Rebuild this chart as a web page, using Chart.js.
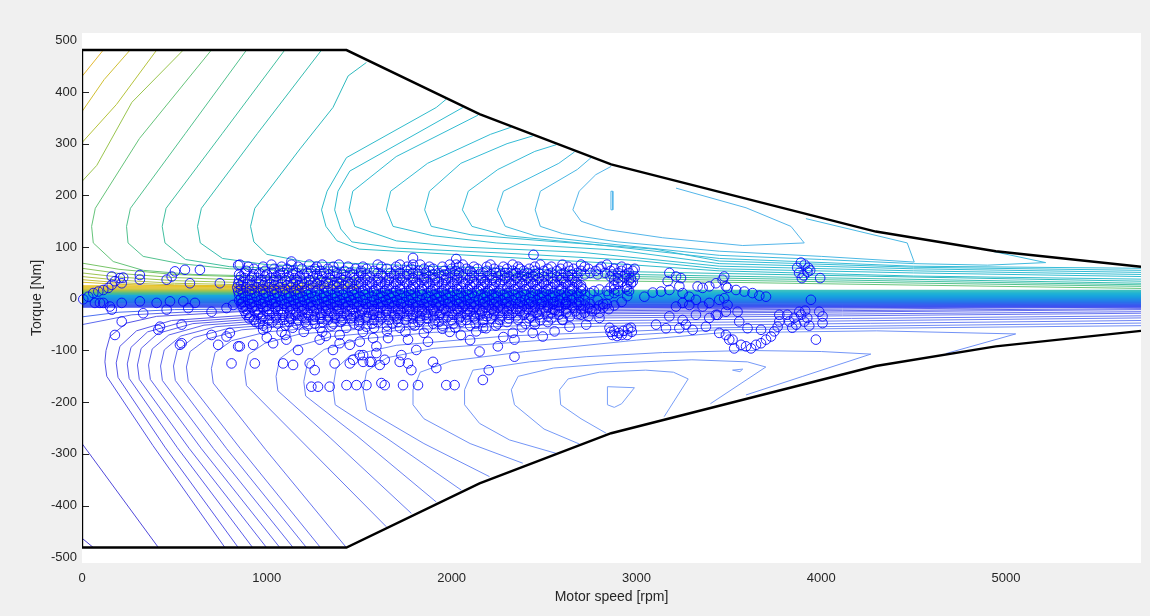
<!DOCTYPE html>
<html>
<head>
<meta charset="utf-8">
<script src="https://cdn.jsdelivr.net/npm/chart.js@4.4.1/dist/chart.umd.min.js"></script>
<style>
  html, body { margin: 0; padding: 0; background: #f0f0f0; }
  canvas { display: block; }
</style>
</head>
<body>
<canvas id="mapChart" width="1150" height="616"></canvas>
<script>
// === MOTOR LOSS MAP: contours + operating points ===

const speedTicks = [0, 1000, 2000, 3000, 4000, 5000];
const torqueTicks = [-500, -400, -300, -200, -100, 0, 100, 200, 300, 400, 500];
const innerTicks = [-400, -300, -200, -100, 0, 100, 200, 300, 400];

// torque envelope (speed rpm, torque Nm), mirrored for braking
const envelopeSpeed = [0, 1431, 2151, 2863, 4295, 4944, 5730];
const envelopeTorque = [481, 481, 357, 260, 130, 92, 62];

// dense band of contour levels round zero torque
const bandLevels = [16, 14, 12, 10, 8, 6, 4, 2, 0, -2, -4, -6, -8, -10, -12, -14, -16];
const leftBandLevels = [25, 23, 21, 19, 17, 15, 13, 11, 9];

// upper contours, [speed, torque] points
const upperContours = [
  [[0, 430], [115, 481]],
  [[0, 362], [120, 424], [260, 481]],
  [[0, 302], [187, 376], [404, 481]],
  [[0, 227], [80, 258], [270, 380], [548, 481]],
  [[0, 69], [200, 57], [500, 47], [900, 42], [1500, 38]],
  [[0, 59], [200, 49], [500, 41], [900, 36], [1500, 33]],
  [[0, 50], [200, 42], [500, 35], [900, 31], [1500, 28]],
  [[0, 43], [200, 36], [500, 30], [900, 27], [1500, 25]],
  [[0, 37], [200, 31], [500, 27], [900, 24], [1500, 22]],
  [[0, 32], [200, 28], [500, 25], [900, 22], [1500, 20]],
  [[700, 481], [311, 310], [72, 175], [52, 140], [61, 108], [169, 72], [331, 55], [600, 47], [1200, 42], [2500, 36], [3448, 32], [5730, 20]],
  [[890, 481], [560, 320], [262, 175], [241, 140], [249, 108], [331, 82], [530, 68], [800, 58], [1500, 50], [2500, 42], [3448, 36], [5730, 24]],
  [[1097, 481], [760, 320], [455, 175], [434, 140], [449, 108], [560, 76], [800, 62], [1500, 54], [2500, 46], [3448, 40], [5730, 27]],
  [[1296, 481], [950, 320], [646, 175], [625, 140], [640, 108], [760, 78], [1000, 66], [1600, 58], [2500, 50], [3448, 44], [5730, 30]],
  [[1539, 457], [1440, 431], [1358, 370], [1180, 290], [935, 175], [912, 140], [930, 110], [1000, 86], [1200, 72], [1800, 64], [2600, 55], [3448, 49], [5730, 34]],
  [[1971, 386], [1917, 370], [1431, 273], [1326, 208], [1296, 172], [1320, 140], [1380, 112], [1500, 96], [2000, 86], [2800, 70], [3448, 54], [4500, 44], [5730, 38]],
  [[2061, 370], [1449, 247], [1385, 208], [1367, 172], [1400, 135], [1460, 110], [1700, 98], [2300, 88], [3000, 74], [3448, 58], [4500, 50], [5730, 43]],
  [[2142, 355], [1700, 275], [1465, 208], [1445, 172], [1476, 140], [1701, 112], [2060, 100], [2700, 90], [3448, 63], [4500, 54], [5730, 47]],
  [[2323, 332], [2210, 318], [1870, 262], [1670, 208], [1647, 172], [1683, 140], [1898, 122], [2241, 108], [2900, 94], [3448, 68], [4500, 58], [5730, 51]],
  [[2439, 315], [2300, 300], [2050, 262], [1880, 208], [1854, 172], [1890, 140], [2100, 124], [2500, 112], [3100, 96], [3448, 73], [4500, 61], [5730, 55]],
  [[2566, 298], [2450, 285], [2250, 250], [2090, 208], [2058, 172], [2110, 140], [2300, 122], [2800, 104], [3448, 78], [4500, 63], [5730, 59]],
  [[2665, 284], [2580, 262], [2280, 208], [2247, 172], [2290, 140], [2450, 122], [2800, 108], [3448, 84], [4000, 76], [4500, 68], [4900, 65], [5214, 70], [4924, 92]],
  [[2755, 273], [2680, 250], [2480, 208], [2452, 172], [2480, 140], [2600, 126], [2900, 110], [3448, 92], [4000, 82], [4503, 71], [4465, 108], [3917, 155]],
  [[2863, 256], [2780, 240], [2690, 208], [2656, 172], [2700, 150], [2836, 134], [3142, 118], [3575, 103], [3908, 108], [3836, 140], [3593, 176], [3214, 214]],
  [[2862, 208], [2872, 208], [2872, 172], [2862, 172], [2862, 208]]
];
const upperColors = [
  '#e4b830', '#d0bf32', '#b6c33c', '#9ac54e',
  '#78c468', '#8ac45c', '#9cc452', '#b0c246', '#c4c03a', '#d8be2e',
  '#66c47a', '#52c28e', '#42c0a0', '#36bdb0', '#2ebabe',
  '#30bccc', '#30bcd0', '#32bcd2', '#34bcd4', '#36bcd6', '#38bcd8',
  '#40bade', '#4ab8e4', '#54b6ea', '#54b6ea'
];

// lower contours, [speed, torque] points
const lowerContours = [
  [[0, -463], [61, -481]],
  [[0, -280], [413, -481]],
  [[0, -50], [130, -41], [270, -31], [600, -25], [1400, -21]],
  [[0, -35], [200, -26], [500, -21], [1400, -18]],
  [[5730, -8], [2500, -12], [900, -24], [404, -34], [241, -47], [151, -73], [130, -100], [124, -122], [134, -150], [384, -284], [773, -481]],
  [[5730, -10], [2500, -15], [1000, -29], [485, -42], [295, -62], [205, -92], [185, -124], [195, -152], [449, -287], [845, -481]],
  [[5730, -12], [2500, -18], [1050, -32], [545, -45], [355, -64], [265, -94], [245, -126], [255, -154], [516, -288], [923, -481]],
  [[5730, -14], [2500, -21], [1100, -35], [600, -48], [410, -67], [320, -96], [300, -128], [310, -156], [579, -289], [998, -481]],
  [[5730, -16], [2500, -24], [1150, -38], [660, -51], [470, -70], [380, -97], [360, -128], [370, -156], [644, -289], [1070, -481]],
  [[5730, -19], [2500, -27], [1200, -41], [725, -54], [535, -72], [445, -99], [425, -130], [435, -158], [712, -290], [1142, -481]],
  [[5730, -21], [2500, -30], [1260, -44], [795, -57], [605, -75], [515, -100], [495, -130], [505, -158], [783, -290], [1214, -481]],
  [[5730, -25], [2500, -34], [1320, -47], [865, -60], [675, -78], [585, -102], [565, -132], [575, -160], [855, -289], [1290, -481]],
  [[5730, -28], [2500, -38], [1450, -51], [1000, -64], [810, -81], [720, -104], [700, -135], [710, -163], [992, -291], [1430, -481]],
  [[5730, -33], [2600, -43], [1600, -56], [1180, -68], [990, -86], [900, -108], [880, -140], [890, -168], [1187, -275], [1647, -441]],
  [[5730, -37], [2700, -48], [1750, -60], [1350, -73], [1160, -92], [1070, -116], [1050, -150], [1060, -178], [1343, -269], [1782, -415]],
  [[5730, -42], [2800, -53], [1900, -65], [1500, -78], [1310, -98], [1220, -124], [1200, -160], [1210, -188], [1487, -265], [1917, -393]],
  [[5730, -47], [3448, -56], [2300, -72], [1700, -90], [1450, -110], [1375, -135], [1358, -172], [1370, -205], [1650, -270], [2052, -370]],
  [[5730, -52], [3448, -60], [2500, -80], [1900, -96], [1650, -114], [1540, -140], [1521, -176], [1540, -215], [1850, -280], [2205, -344]],
  [[2385, -318], [2100, -280], [1850, -232], [1791, -205], [1791, -176], [1830, -142], [2000, -120], [2400, -102], [3000, -80], [3448, -66], [4300, -62], [5052, -68], [4674, -106]],
  [[2566, -299], [2313, -273], [2151, -241], [2070, -205], [2070, -176], [2115, -138], [2421, -122], [2728, -112], [3142, -104], [3610, -100], [4000, -102], [4268, -107], [3900, -150], [3593, -186]],
  [[2692, -281], [2500, -252], [2340, -205], [2323, -176], [2360, -150], [2550, -134], [2900, -124], [3300, -118], [3600, -122], [3700, -132], [3400, -203]],
  [[2836, -260], [2700, -232], [2590, -205], [2584, -176], [2630, -155], [2800, -142], [3050, -138], [3200, -142], [3280, -155], [3150, -228]],
  [[2843, -170], [2989, -172], [2920, -203], [2880, -210], [2843, -205], [2843, -170]],
  [[3520, -138], [3575, -136], [3560, -141], [3520, -138]]
];
const lowerColors = [
  '#4a3ed0', '#5048da', '#5c6aee', '#4c70f0',
  '#5656e6', '#5858e8', '#5a5cea', '#5c60eb', '#5e64ec', '#6068ed', '#626cee', '#6470ef', '#6674f0', '#687af1', '#6a7ef2', '#6c82f3',
  '#6e88f4', '#708cf5', '#7292f6', '#7496f7', '#769af8', '#789ef8', '#7aa0f9', '#7aa0f9'
];

// operating points: rows of the dense cloud (torque level -> speeds)
const massTorque = [66, 62, 58, 54, 50, 47, 43, 40, 36, 33, 29, 26, 22, 18, 15, 11, 8, 4, 1, -3, -6, -10, -13, -17, -20, -24, -27, -31, -34, -38, -41, -45, -48, -52, -56, -64];
const massSpeeds = [
  [854, 1025, 1133, 1230, 1300, 1390, 1600, 1720, 1791, 1830, 1990, 2025, 2060, 2210, 2330, 2480, 2600, 2700, 2840],
  [900, 980, 1080, 1170, 1270, 1360, 1440, 1520, 1620, 1700, 1760, 1880, 1950, 2040, 2120, 2190, 2280, 2360, 2450, 2540, 2630, 2720, 2810, 2920],
  [930, 1040, 1110, 1190, 1260, 1330, 1480, 1540, 1650, 1780, 1850, 1900, 2000, 2080, 2140, 2230, 2300, 2370, 2420, 2520, 2590, 2660, 2740, 2800, 2880, 2950, 2990],
  [890, 990, 1070, 1140, 1240, 1290, 1360, 1420, 1510, 1580, 1700, 1760, 1820, 1880, 1960, 2020, 2100, 2190, 2260, 2330, 2390, 2450, 2500, 2570, 2640, 2700, 2780, 2860, 2920, 2980],
  [880, 960, 1030, 1090, 1160, 1220, 1310, 1380, 1450, 1510, 1600, 1670, 1720, 1790, 1860, 1930, 1990, 2040, 2110, 2170, 2240, 2290, 2350, 2410, 2470, 2540, 2610, 2680, 2750, 2830, 2900, 2960],
  [850, 930, 1000, 1070, 1140, 1200, 1270, 1340, 1410, 1470, 1540, 1620, 1690, 1760, 1820, 1900, 1960, 2020, 2080, 2150, 2210, 2270, 2330, 2390, 2450, 2520, 2590, 2650, 2720, 2790, 2870, 2940],
  [860, 920, 990, 1050, 1120, 1180, 1250, 1300, 1370, 1430, 1500, 1560, 1630, 1690, 1750, 1820, 1880, 1940, 2000, 2060, 2120, 2190, 2250, 2310, 2380, 2440, 2500, 2570, 2630, 2680, 2860, 2930, 2990],
  [880, 950, 1020, 1080, 1150, 1210, 1280, 1340, 1400, 1470, 1530, 1600, 1660, 1720, 1790, 1850, 1910, 1970, 2030, 2100, 2160, 2220, 2290, 2350, 2410, 2470, 2540, 2600, 2660, 2900, 2970],
  [850, 910, 970, 1040, 1100, 1160, 1230, 1290, 1350, 1410, 1480, 1540, 1600, 1660, 1730, 1790, 1850, 1910, 1970, 2030, 2090, 2160, 2220, 2280, 2340, 2400, 2460, 2520, 2590, 2650, 2880, 2960],
  [870, 940, 1000, 1060, 1130, 1190, 1260, 1320, 1380, 1440, 1500, 1560, 1620, 1690, 1750, 1810, 1870, 1930, 2000, 2060, 2120, 2180, 2240, 2310, 2370, 2430, 2490, 2550, 2610, 2670, 2920, 2980],
  [845, 900, 960, 1020, 1080, 1140, 1200, 1270, 1330, 1390, 1450, 1510, 1570, 1640, 1700, 1760, 1820, 1880, 1950, 2010, 2070, 2130, 2190, 2260, 2320, 2380, 2440, 2500, 2560, 2620, 2680, 2900, 2970],
  [860, 920, 980, 1040, 1110, 1170, 1230, 1290, 1360, 1420, 1480, 1540, 1600, 1660, 1720, 1790, 1850, 1910, 1970, 2030, 2100, 2160, 2220, 2280, 2340, 2400, 2460, 2520, 2580, 2640, 2700, 2880, 2950],
  [840, 890, 950, 1010, 1070, 1130, 1190, 1250, 1310, 1380, 1440, 1500, 1560, 1620, 1680, 1740, 1800, 1870, 1930, 1990, 2050, 2110, 2170, 2230, 2300, 2360, 2420, 2480, 2540, 2600, 2660, 2700, 2860, 2940],
  [860, 920, 980, 1040, 1100, 1160, 1220, 1280, 1350, 1410, 1470, 1530, 1590, 1650, 1720, 1780, 1840, 1900, 1960, 2030, 2090, 2150, 2210, 2270, 2340, 2400, 2460, 2520, 2590, 2650, 2710, 2800, 2880, 2950],
  [845, 905, 965, 1025, 1085, 1150, 1210, 1270, 1330, 1390, 1460, 1520, 1580, 1640, 1700, 1770, 1830, 1890, 1950, 2010, 2080, 2140, 2200, 2260, 2330, 2390, 2450, 2510, 2580, 2640, 2700, 2770, 2840, 2900, 2960],
  [870, 935, 995, 1055, 1120, 1180, 1240, 1310, 1370, 1430, 1490, 1550, 1620, 1680, 1740, 1800, 1870, 1930, 1990, 2050, 2110, 2180, 2240, 2300, 2360, 2430, 2490, 2550, 2610, 2680, 2750, 2880],
  [850, 910, 980, 1040, 1100, 1160, 1220, 1290, 1350, 1410, 1470, 1530, 1600, 1660, 1720, 1780, 1840, 1910, 1970, 2030, 2090, 2160, 2220, 2280, 2340, 2400, 2470, 2530, 2590, 2650, 2720, 2850],
  [880, 945, 1010, 1070, 1130, 1195, 1260, 1320, 1380, 1445, 1505, 1570, 1630, 1690, 1755, 1815, 1880, 1940, 2000, 2065, 2125, 2190, 2250, 2310, 2375, 2440, 2500, 2560, 2625, 2690],
  [860, 920, 985, 1045, 1110, 1170, 1230, 1300, 1360, 1420, 1480, 1540, 1610, 1670, 1730, 1790, 1860, 1920, 1980, 2040, 2100, 2170, 2230, 2290, 2350, 2420, 2480, 2540, 2600, 2660],
  [850, 900, 960, 1020, 1080, 1145, 1205, 1270, 1330, 1395, 1455, 1520, 1580, 1645, 1705, 1770, 1830, 1895, 1955, 2020, 2080, 2145, 2205, 2270, 2330, 2395, 2460, 2520, 2585, 2650, 2720, 2790],
  [870, 930, 990, 1050, 1120, 1180, 1240, 1310, 1370, 1430, 1490, 1560, 1620, 1680, 1740, 1810, 1870, 1930, 1990, 2050, 2120, 2180, 2240, 2300, 2370, 2430, 2490, 2550, 2620, 2690, 2920],
  [860, 910, 970, 1030, 1095, 1155, 1220, 1280, 1345, 1410, 1470, 1535, 1600, 1660, 1725, 1790, 1850, 1915, 1980, 2040, 2105, 2170, 2230, 2295, 2360, 2420, 2485, 2550, 2615, 2680, 2750, 2840],
  [880, 940, 1000, 1060, 1130, 1190, 1250, 1320, 1380, 1440, 1500, 1570, 1630, 1690, 1760, 1820, 1880, 1940, 2010, 2070, 2130, 2200, 2260, 2320, 2390, 2450, 2520, 2580, 2650, 2720, 2800, 2880],
  [870, 920, 980, 1045, 1110, 1170, 1235, 1300, 1360, 1425, 1490, 1550, 1615, 1680, 1740, 1805, 1870, 1930, 1995, 2060, 2120, 2185, 2250, 2310, 2380, 2450, 2520, 2590, 2660, 2740, 2820],
  [890, 950, 1010, 1080, 1140, 1200, 1270, 1330, 1390, 1460, 1520, 1580, 1650, 1710, 1770, 1840, 1900, 1960, 2030, 2090, 2150, 2220, 2280, 2350, 2410, 2480, 2550, 2620, 2700, 2780, 2850],
  [880, 935, 1000, 1060, 1125, 1190, 1255, 1320, 1385, 1450, 1515, 1580, 1645, 1710, 1775, 1840, 1905, 1970, 2035, 2100, 2165, 2230, 2300, 2370, 2440, 2510, 2580, 2670, 2760],
  [900, 960, 1030, 1090, 1160, 1220, 1290, 1350, 1420, 1480, 1550, 1610, 1680, 1740, 1810, 1870, 1940, 2000, 2070, 2130, 2200, 2260, 2330, 2400, 2460, 2540, 2620, 2720, 2800],
  [890, 950, 1015, 1085, 1155, 1225, 1295, 1365, 1435, 1505, 1575, 1645, 1720, 1790, 1860, 1935, 2010, 2085, 2155, 2230, 2310, 2390, 2470, 2580, 2700],
  [910, 980, 1050, 1120, 1190, 1260, 1330, 1400, 1470, 1540, 1610, 1690, 1760, 1830, 1900, 1980, 2050, 2120, 2190, 2270, 2350, 2430, 2520, 2640, 2740],
  [905, 970, 1050, 1130, 1210, 1290, 1370, 1455, 1540, 1620, 1705, 1790, 1870, 1955, 2040, 2125, 2215, 2310, 2420, 2540],
  [930, 1010, 1090, 1170, 1250, 1330, 1410, 1500, 1580, 1660, 1750, 1830, 1910, 2000, 2080, 2170, 2260, 2360, 2480, 2600],
  [940, 1030, 1120, 1210, 1300, 1400, 1500, 1600, 1710, 1820, 1930, 2050, 2170, 2300, 2450],
  [960, 1060, 1160, 1260, 1360, 1470, 1570, 1680, 1790, 1900, 2010, 2130, 2250, 2400],
  [980, 1100, 1220, 1350, 1500, 1650, 1800, 1950, 2100, 2240],
  [1000, 1140, 1290, 1430, 1580, 1720, 1870, 2020, 2170],
  [1080, 1300, 1520, 1750, 1990]
];

// scattered operating points outside the dense cloud
const loosePoints = [
  [7, -1], [34, 4], [61, 11], [88, 14], [115, 17], [142, 21], [161, 27], [178, 34], [205, 40], [215, 30], [161, 43],
  [70, -8], [97, -8], [115, -8], [151, -15], [161, -21], [215, -8], [215, -44], [178, -70],
  [223, 41], [313, 46], [313, 37], [458, 37], [485, 43], [503, 53], [557, 56], [584, 30], [638, 56], [746, 30], [845, 65],
  [313, -5], [404, -8], [476, -5], [548, -5], [611, -8], [701, -25], [782, -18], [818, -12], [331, -28], [458, -21], [575, -18],
  [413, -60], [422, -54], [539, -86], [530, -89], [701, -70], [782, -73], [845, -92], [539, -50], [737, -89], [800, -66],
  [854, -92], [809, -125], [935, -125], [926, -89], [980, -60], [1034, -86], [1088, -125], [1142, -128], [1106, -79],
  [1169, -99], [1232, -125], [1241, -170], [1277, -170], [1340, -170], [1431, -167], [1485, -167], [1539, -167],
  [1367, -125], [1449, -125], [1467, -118], [1521, -122], [1566, -122], [1286, -79], [1358, -99], [1394, -70], [1259, -138],
  [1503, -109], [1593, -92], [1539, -54], [1620, -163], [1638, -167], [1737, -167], [1818, -167], [1971, -167], [2016, -167],
  [2169, -157], [2201, -138], [2340, -112], [2250, -92], [2151, -102], [1899, -122], [1917, -134], [1782, -138], [1764, -125],
  [1719, -122], [1638, -118], [1611, -128], [1557, -122], [1521, -109], [1593, -105], [1728, -109], [1809, -99], [1872, -83],
  [1764, -79], [1656, -76], [1575, -76], [1503, -83], [1449, -89], [1394, -86], [2340, -79], [2331, -66], [2133, -63],
  [2187, -57], [2439, -66], [2493, -73], [2557, -63], [2638, -54], [2728, -50], [2800, -37],
  [1000, -75], [1100, -70], [1200, -64], [1320, -72], [1650, -62], [1850, -66], [1950, -58], [2050, -70], [2100, -80],
  [2280, -74], [2380, -55], [2450, -50], [2520, -45], [2600, -40], [2680, -30], [2750, -20], [2820, -10], [2950, 5],
  [2560, -22], [2620, -10], [2443, 85], [1133, 72], [1791, 79], [2025, 77],
  [2854, -56], [2880, -62], [2905, -66], [2930, -62], [2955, -58], [2975, -64], [2870, -70], [2895, -72], [2920, -70],
  [2950, -70], [2970, -56], [2860, -64],
  [3043, 4], [3088, 12], [3133, 14], [3178, 17], [3178, 50], [3169, 34], [3214, 43], [3241, 40], [3232, 24], [3250, 11],
  [3286, 4], [3331, 24], [3358, 21], [3394, 24], [3430, 30], [3466, 37], [3475, 43], [3484, 24], [3493, 21], [3539, 17],
  [3584, 14], [3628, 11], [3665, 6], [3701, 4], [3250, -8], [3214, -15], [3286, -12], [3322, -2], [3358, -15], [3394, -8],
  [3448, -2], [3475, 1], [3493, -12], [3178, -34], [3250, -41], [3268, -50], [3304, -60], [3232, -57], [3160, -57],
  [3106, -50], [3322, -31], [3376, -54], [3394, -37], [3430, -31], [3484, -25], [3547, -25], [3556, -44], [3439, -31],
  [3448, -66], [3484, -70], [3520, -79], [3529, -96], [3566, -89], [3593, -92], [3620, -96], [3647, -89], [3674, -86],
  [3701, -79], [3728, -73], [3746, -63], [3764, -54], [3773, -44], [3773, -31], [3601, -57], [3674, -60], [3502, -79],
  [3816, -31], [3854, -37], [3891, -31], [3924, -37], [3827, -44], [3864, -50], [3908, -44], [3935, -52], [3843, -56],
  [3881, -25], [3913, -23], [3944, -2], [3989, -25], [4007, -34], [4007, -47], [3971, -79],
  [3870, 60], [3890, 70], [3910, 66], [3930, 60], [3880, 50], [3905, 45], [3925, 52], [3895, 40], [3940, 55], [3994, 40]
];

// --- build datasets ---
const xMax = 5730;
const toXY = pts => pts.map(p => ({ x: p[0], y: p[1] }));

function lineSet(pts, color, width, order) {
  return {
    data: toXY(pts), showLine: true, borderColor: color, borderWidth: width,
    pointRadius: 0, pointHitRadius: 0, fill: false, tension: 0, order
  };
}

const envelope = [];
for (let i = envelopeSpeed.length - 1; i >= 0; i--) envelope.push([envelopeSpeed[i], envelopeTorque[i]]);
for (let i = 0; i < envelopeSpeed.length; i++) envelope.push([envelopeSpeed[i], -envelopeTorque[i]]);

const bandColors = ['#3cc0c0', '#30bcc8', '#26b6d0', '#1eb0d6', '#1aaadb', '#18a4de', '#189ee0', '#1a96e2', '#1c8ee4',
  '#2086e6', '#247ce8', '#2872ea', '#2c68ec', '#305eee', '#3456ef', '#3850f0', '#3c4cf0'];
const leftBandColors = ['#e8c020', '#e4c224', '#dcc22a', '#d0c232', '#b8c240', '#98c254', '#74c06a', '#52bc86', '#3cb8a0'];

const scatterPts = [];
massTorque.forEach((t, i) => massSpeeds[i].forEach(s => scatterPts.push({ x: s, y: t })));
loosePoints.forEach(p => scatterPts.push({ x: p[0], y: p[1] }));

const datasets = [];
datasets.push({
  data: scatterPts, showLine: false, pointStyle: 'circle', pointRadius: 4.8,
  pointBorderColor: 'rgba(0, 0, 255, 0.85)', pointBackgroundColor: 'rgba(0, 0, 0, 0)',
  pointBorderWidth: 1, clip: false, order: 0
});
datasets.push(lineSet(envelope, '#000000', 2.4, 1));
leftBandLevels.forEach((l, i) => datasets.push(lineSet([[0, l], [1200, l]], leftBandColors[i], 1.4, 2)));
bandLevels.forEach((l, i) => datasets.push(lineSet([[0, l], [xMax, l]], bandColors[i], 1.6, 3)));
upperContours.forEach((c, i) => datasets.push(lineSet(c, upperColors[i], 1, 4)));
lowerContours.forEach((c, i) => datasets.push(lineSet(c, lowerColors[i], 1, 4)));

const frame = {
  id: 'frame',
  beforeDraw(chart) {
    const { ctx, chartArea: a } = chart;
    ctx.save();
    ctx.fillStyle = '#f0f0f0';
    ctx.fillRect(0, 0, chart.width, chart.height);
    ctx.fillStyle = '#ffffff';
    ctx.fillRect(a.left, a.top, a.right - a.left, a.bottom - a.top);
    ctx.restore();
  },
  beforeDatasetsDraw(chart) {
    const { ctx, chartArea: a, scales: { y } } = chart;
    ctx.save();
    ctx.strokeStyle = '#262626';
    ctx.lineWidth = 1;
    innerTicks.forEach(v => {
      const py = Math.round(y.getPixelForValue(v)) + 0.5;
      ctx.beginPath();
      ctx.moveTo(a.left, py);
      ctx.lineTo(a.left + 7, py);
      ctx.stroke();
    });
    ctx.restore();
  }
};

const fontFam = '"Liberation Sans", Arial, Helvetica, sans-serif';

new Chart(document.getElementById('mapChart'), {
  type: 'scatter',
  data: { datasets },
  options: {
    responsive: false,
    animation: false,
    events: [],
    layout: { padding: { left: 0, right: 9, top: 33, bottom: 0 } },
    plugins: { legend: { display: false }, tooltip: { enabled: false } },
    scales: {
      x: {
        type: 'linear', min: 0, max: xMax,
        afterFit(s) { s.height = 53; },
        afterBuildTicks(s) { s.ticks = speedTicks.map(v => ({ value: v })); },
        grid: { display: false, drawTicks: false },
        border: { display: false },
        ticks: { padding: 8, color: '#262626', font: { family: fontFam, size: 13 }, callback: v => String(v), maxRotation: 0 },
        title: { display: true, text: 'Motor speed [rpm]', color: '#262626', font: { family: fontFam, size: 14 }, padding: { top: 0, bottom: 10 } }
      },
      y: {
        type: 'linear', min: -511, max: 514,
        afterFit(s) { s.width = 82; },
        afterBuildTicks(s) { s.ticks = torqueTicks.map(v => ({ value: v })); },
        grid: { display: false, drawTicks: false },
        border: { display: false },
        ticks: { padding: 5, color: '#262626', font: { family: fontFam, size: 13 }, callback: v => String(v) },
        title: { display: true, text: 'Torque [Nm]', color: '#262626', font: { family: fontFam, size: 14 }, padding: { top: 29 } }
      }
    }
  },
  plugins: [frame]
});
</script>
</body>
</html>
